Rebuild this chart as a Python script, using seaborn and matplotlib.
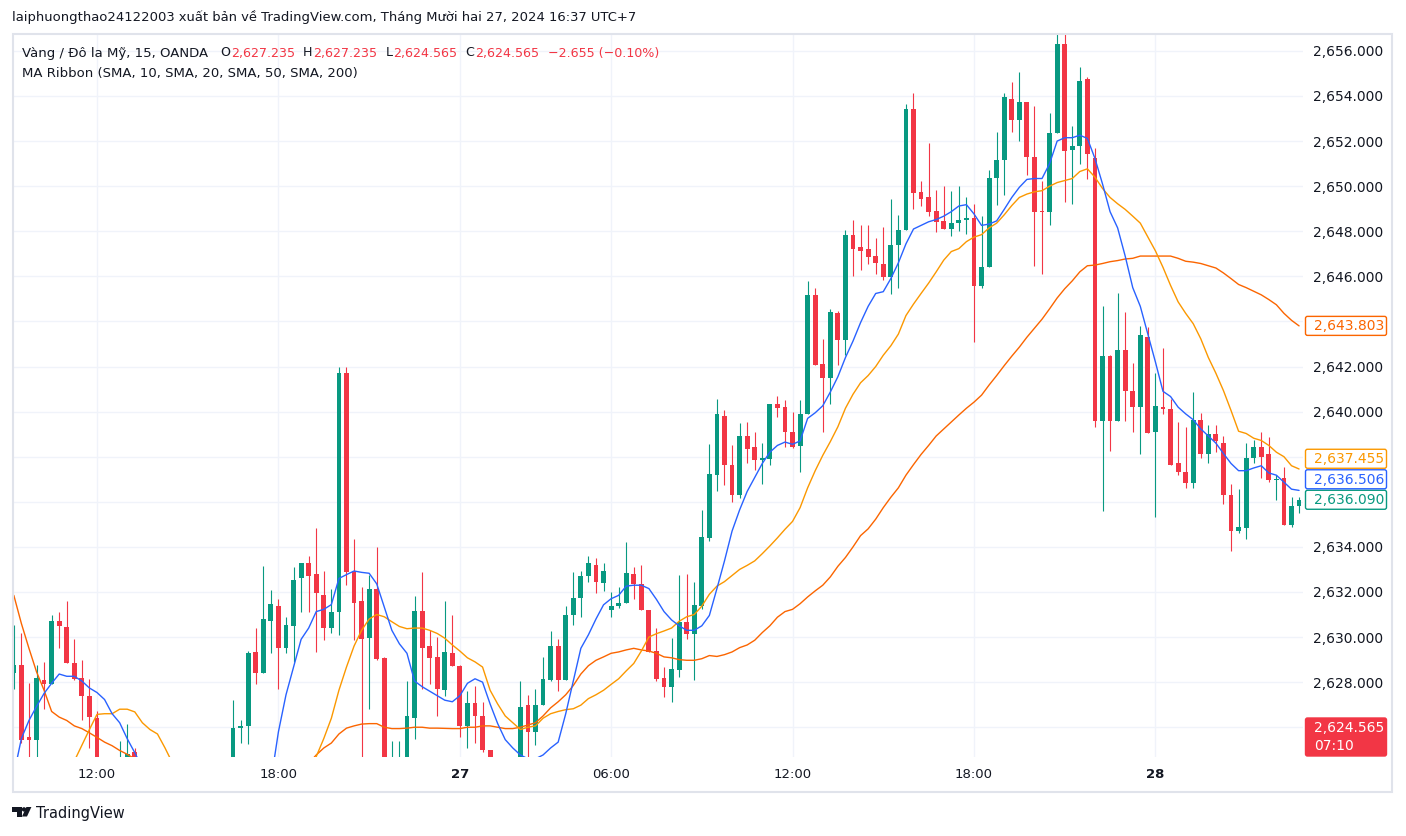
# XAU/USD 15m candles with MA ribbon, TradingView style

import numpy as np
import pandas as pd
import matplotlib
matplotlib.use("Agg")
import matplotlib.pyplot as plt
import seaborn as sns
from matplotlib.patches import Rectangle, FancyBboxPatch, Polygon, Circle
from matplotlib.ticker import FuncFormatter

nan = np.nan

# 15 min bars, market closed 05:00-06:00
times = list(pd.date_range("2024-12-26 09:15", "2024-12-27 04:45", freq="15min")) + \
    list(pd.date_range("2024-12-27 06:00", "2024-12-28 04:45", freq="15min"))

# OHLC (nan = candle fully below the visible range)
opens = [2628.4, 2628.77, 2625.55, 2625.45, 2628.1, 2627.9, 2630.7, 2630.45, 2628.87, 2628.2, 2627.4,
         2626.4, nan, nan, 2622.8, 2623.4, 2624.9, nan, nan, nan, nan,
         nan, nan, nan, nan, nan, nan, nan, nan, 2623.8, 2625.95,
         2626.05, 2629.35, 2628.4, 2630.7, 2631.4, 2629.5, 2630.5, 2632.6, 2633.3, 2632.8,
         2631.85, 2630.4, 2631.1, 2641.73, 2632.93, 2631.6, 2629.95, 2632.15, 2629.08, 2622.8,
         2623.0, 2624.0, 2626.4, 2631.17, 2629.6, 2629.1, 2627.65, 2629.3, 2628.73, 2626.06,
         2627.07, 2626.5, 2624.97, nan, nan, nan, 2623.8, 2626.98, 2625.8, 2627.0,
         2628.1, 2629.6, 2628.1, 2631.0, 2631.75, 2632.7, 2633.2, 2632.4, 2631.2, 2631.4,
         2631.5, 2632.8, 2632.35, 2631.2, 2629.4, 2628.2, 2627.8, 2628.56, 2630.68, 2630.14,
         2631.4, 2634.4, 2637.18, 2639.8, 2637.65, 2636.3, 2638.9, 2638.45, 2637.86, 2637.9,
         2640.32, 2640.2, 2639.1, 2638.47, 2639.9, 2645.18, 2642.12, 2641.49, 2644.36, 2643.17,
         2647.85, 2647.3, 2647.2, 2646.9, 2646.57, 2645.98, 2647.4, 2648.05, 2653.43, 2649.75,
         2649.5, 2648.9, 2648.45, 2648.1, 2648.35, 2648.5, 2648.6, 2645.55, 2646.4, 2650.37,
         2651.17, 2653.85, 2652.93, 2653.75, 2651.3, 2648.9, 2648.85, 2652.36, 2656.32, 2651.6,
         2651.8, 2654.76, 2651.27, 2639.58, 2642.47, 2639.58, 2642.72, 2640.93, 2640.2, 2643.3,
         2639.08, 2640.2, 2640.1, 2637.7, 2637.3, 2636.83, 2639.64, 2638.1, 2639.0, 2638.6,
         2636.32, 2634.7, 2634.85, 2637.94, 2638.45, 2638.1, 2636.97, 2637.07, 2634.98, 2635.8]
highs = [2630.55, 2630.2, 2627.95, 2628.77, 2628.9, 2631.0, 2631.1, 2631.6, 2629.9, 2629.0, 2628.15,
         2626.7, nan, nan, 2625.4, 2626.15, 2625.1, nan, nan, nan, nan,
         nan, nan, nan, nan, nan, nan, nan, nan, 2627.2, 2626.3,
         2629.4, 2630.4, 2633.15, 2632.1, 2631.7, 2630.9, 2633.1, 2633.3, 2633.6, 2634.85,
         2632.95, 2632.15, 2642.0, 2642.0, 2634.37, 2632.2, 2632.77, 2634.0, 2629.1, 2625.4,
         2625.4, 2628.05, 2631.8, 2632.9, 2630.3, 2630.0, 2631.6, 2631.0, 2628.75, 2627.6,
         2627.85, 2627.1, 2624.97, nan, nan, nan, 2628.05, 2627.45, 2627.7, 2629.1,
         2630.25, 2629.9, 2631.4, 2632.9, 2632.93, 2633.6, 2633.5, 2633.3, 2632.0, 2632.2,
         2634.2, 2633.1, 2633.2, 2631.2, 2630.4, 2628.67, 2629.95, 2632.77, 2632.8, 2632.46,
         2635.64, 2638.55, 2640.56, 2640.05, 2638.5, 2639.5, 2639.54, 2639.1, 2638.6, 2640.36,
         2640.7, 2640.5, 2640.0, 2640.5, 2645.8, 2645.5, 2643.23, 2644.56, 2644.46, 2648.05,
         2648.5, 2648.3, 2648.3, 2647.7, 2648.2, 2649.45, 2648.7, 2653.64, 2654.15, 2650.25,
         2651.9, 2649.85, 2650.0, 2649.8, 2650.0, 2649.5, 2649.2, 2648.67, 2650.7, 2652.4,
         2654.15, 2654.6, 2655.08, 2653.75, 2653.55, 2650.25, 2653.24, 2656.9, 2656.9, 2652.67,
         2655.27, 2654.85, 2651.7, 2644.67, 2642.5, 2645.24, 2644.4, 2642.14, 2643.8, 2643.75,
         2641.7, 2642.8, 2640.57, 2639.54, 2639.33, 2640.87, 2639.95, 2639.4, 2639.4, 2638.92,
         2636.77, 2636.56, 2638.62, 2638.76, 2639.1, 2638.88, 2637.2, 2637.55, 2636.2, 2636.2]
lows = [2627.68, 2625.3, 2624.0, 2624.0, 2626.8, 2627.9, 2629.5, 2628.83, 2628.1, 2626.3, 2625.1,
        2623.5, nan, nan, 2622.5, 2623.0, 2623.2, nan, nan, nan, nan,
        nan, nan, nan, nan, nan, nan, nan, nan, 2623.5, 2625.3,
        2625.25, 2627.9, 2628.4, 2629.3, 2627.7, 2629.3, 2628.9, 2631.1, 2631.1, 2629.35,
        2629.85, 2630.2, 2630.1, 2632.3, 2629.85, 2623.5, 2626.8, 2629.0, 2623.5, 2622.5,
        2622.8, 2623.6, 2625.5, 2627.7, 2627.9, 2626.5, 2627.4, 2628.7, 2625.55, 2625.1,
        2625.3, 2624.9, 2623.6, nan, nan, nan, 2623.5, 2624.4, 2625.2, 2627.0,
        2628.05, 2627.6, 2628.1, 2630.55, 2630.9, 2632.45, 2631.95, 2632.05, 2630.9, 2631.3,
        2631.5, 2631.7, 2631.2, 2629.35, 2628.05, 2627.33, 2627.1, 2628.25, 2629.9, 2628.1,
        2631.23, 2634.27, 2636.5, 2636.73, 2636.0, 2636.15, 2637.7, 2637.4, 2636.8, 2637.63,
        2639.74, 2638.45, 2638.4, 2637.3, 2639.9, 2642.06, 2639.1, 2640.36, 2642.06, 2642.5,
        2646.0, 2646.26, 2646.56, 2646.1, 2645.85, 2645.2, 2645.5, 2648.05, 2649.0, 2649.14,
        2648.67, 2647.95, 2648.1, 2647.8, 2648.0, 2647.9, 2643.1, 2645.5, 2646.4, 2649.17,
        2649.6, 2652.4, 2652.0, 2650.5, 2646.45, 2646.1, 2648.26, 2652.36, 2649.28, 2649.2,
        2651.0, 2650.3, 2639.3, 2635.58, 2638.27, 2639.58, 2639.58, 2639.1, 2638.14, 2639.03,
        2635.33, 2639.9, 2637.63, 2637.18, 2636.6, 2636.6, 2637.96, 2637.7, 2638.2, 2635.9,
        2633.8, 2634.6, 2634.35, 2637.73, 2637.04, 2636.9, 2636.06, 2634.96, 2634.86, 2635.5]
closes = [2628.77, 2625.45, 2625.45, 2628.2, 2627.9, 2630.7, 2630.5, 2628.83, 2628.15, 2627.4, 2626.45,
          2623.8, nan, nan, 2623.9, 2624.8, 2623.6, nan, nan, nan, nan,
          nan, nan, nan, nan, nan, nan, nan, nan, 2625.95, 2626.05,
          2629.3, 2628.4, 2630.8, 2631.45, 2629.5, 2630.55, 2632.55, 2633.3, 2632.7, 2631.95,
          2630.4, 2631.1, 2641.73, 2632.87, 2631.5, 2629.9, 2632.15, 2629.03, 2623.9, 2623.8,
          2624.0, 2626.5, 2631.17, 2629.5, 2629.05, 2627.7, 2629.35, 2628.7, 2626.06, 2627.07,
          2626.5, 2624.97, 2624.0, nan, nan, nan, 2626.9, 2625.8, 2626.98, 2628.15,
          2629.6, 2628.1, 2631.0, 2631.75, 2632.7, 2633.3, 2632.45, 2632.93, 2631.4, 2631.5,
          2632.85, 2632.35, 2631.2, 2629.35, 2628.15, 2627.8, 2628.6, 2630.68, 2630.14, 2631.44,
          2634.45, 2637.24, 2639.9, 2637.63, 2636.3, 2638.9, 2638.35, 2637.86, 2637.94, 2640.32,
          2640.15, 2639.1, 2638.45, 2639.9, 2645.18, 2642.06, 2641.49, 2644.4, 2643.17, 2647.85,
          2647.23, 2647.13, 2646.86, 2646.6, 2645.95, 2647.4, 2648.05, 2653.43, 2649.7, 2649.45,
          2648.87, 2648.4, 2648.1, 2648.35, 2648.5, 2648.6, 2645.55, 2646.4, 2650.37, 2651.17,
          2653.94, 2652.93, 2653.75, 2651.3, 2648.87, 2648.85, 2652.36, 2656.32, 2651.54, 2651.8,
          2654.68, 2651.43, 2639.58, 2642.47, 2639.58, 2642.72, 2640.93, 2640.2, 2643.4, 2639.03,
          2640.25, 2640.1, 2637.63, 2637.3, 2636.83, 2639.64, 2638.1, 2639.0, 2638.68, 2636.32,
          2634.72, 2634.87, 2637.94, 2638.45, 2638.0, 2636.97, 2637.03, 2634.98, 2635.8, 2636.09]

# moving averages
sma10 = [2623.9, 2625.5, 2626.3, 2626.92, 2627.5, 2627.95, 2628.36, 2628.26, 2628.26, 2628.05, 2627.74,
         2627.54, 2627.23, 2626.6, 2626.2, 2625.49, 2624.87, 2624.2, nan, nan, nan,
         nan, nan, nan, nan, nan, nan, nan, nan, nan, nan,
         nan, nan, nan, 2623.6, 2625.8, 2627.44, 2628.67, 2629.9, 2630.4, 2631.13,
         2631.23, 2631.44, 2632.6, 2632.77, 2632.93, 2632.87, 2632.83, 2632.36, 2631.33, 2630.3,
         2629.7, 2629.28, 2628.05, 2627.8, 2627.6, 2627.4, 2627.2, 2627.13, 2627.4, 2627.95,
         2628.15, 2628.0, 2627.03, 2626.16, 2625.45, 2625.08, 2624.77, 2624.6, 2624.6, 2624.77,
         2625.08, 2625.34, 2626.6, 2628.05, 2629.5, 2630.1, 2630.8, 2631.43, 2631.7, 2631.85,
         2632.26, 2632.3, 2632.3, 2632.15, 2631.67, 2631.13, 2630.76, 2630.5, 2630.3, 2630.3,
         2630.5, 2630.96, 2632.15, 2633.38, 2634.7, 2635.64, 2636.46, 2637.08, 2637.7, 2638.2,
         2638.5, 2638.65, 2638.55, 2638.7, 2639.7, 2639.95, 2640.26, 2640.87, 2641.55, 2642.4,
         2643.13, 2643.95, 2644.67, 2645.24, 2645.32, 2645.9, 2646.6, 2647.44, 2648.1, 2648.26,
         2648.42, 2648.52, 2648.67, 2648.87, 2649.12, 2649.18, 2648.77, 2648.26, 2648.32, 2648.46,
         2648.97, 2649.5, 2649.95, 2650.3, 2650.34, 2650.34, 2651.0, 2652.0, 2652.15, 2652.15,
         2652.26, 2652.12, 2651.23, 2650.1, 2648.87, 2648.15, 2646.9, 2645.5, 2644.67, 2643.44,
         2642.2, 2640.9, 2640.67, 2640.2, 2639.9, 2639.64, 2639.23, 2638.92, 2638.6, 2638.14,
         2637.7, 2637.38, 2637.38, 2637.5, 2637.6, 2637.28, 2637.18, 2636.87, 2636.56, 2636.506]
sma20 = [nan, nan, nan, nan, nan, nan, nan, 2623.8, 2624.5, 2625.2, 2625.9,
         2626.57, 2626.6, 2626.6, 2626.8, 2626.8, 2626.68, 2626.2, 2625.9, 2625.7, 2625.08,
         2624.4, 2623.8, nan, nan, nan, nan, nan, nan, nan, nan,
         nan, nan, nan, nan, nan, nan, nan, nan, 2623.9, 2624.7,
         2625.5, 2626.4, 2627.64, 2628.67, 2629.6, 2630.3, 2630.8, 2631.0, 2630.9, 2630.68,
         2630.47, 2630.37, 2630.4, 2630.4, 2630.3, 2630.16, 2629.95, 2629.65, 2629.38, 2629.08,
         2628.9, 2628.67, 2627.64, 2627.03, 2626.5, 2626.2, 2625.9, 2626.0, 2626.06, 2626.4,
         2626.6, 2626.7, 2626.78, 2626.82, 2626.98, 2627.27, 2627.44, 2627.64, 2627.9, 2628.15,
         2628.5, 2628.83, 2629.38, 2630.0, 2630.15, 2630.27, 2630.4, 2630.7, 2630.9, 2631.0,
         2631.37, 2631.9, 2632.26, 2632.46, 2632.73, 2633.0, 2633.18, 2633.38, 2633.7, 2634.04,
         2634.4, 2634.78, 2635.13, 2635.74, 2636.62, 2637.38, 2638.06, 2638.67, 2639.33, 2640.15,
         2640.77, 2641.28, 2641.6, 2642.0, 2642.5, 2642.92, 2643.44, 2644.26, 2644.77, 2645.24,
         2645.7, 2646.2, 2646.72, 2647.1, 2647.23, 2647.54, 2647.74, 2647.85, 2648.15, 2648.36,
         2648.73, 2649.14, 2649.5, 2649.65, 2649.75, 2649.8, 2650.0, 2650.16, 2650.25, 2650.34,
         2650.65, 2650.77, 2650.4, 2649.9, 2649.5, 2649.22, 2648.97, 2648.67, 2648.36, 2647.74,
         2647.13, 2646.4, 2645.6, 2644.87, 2644.36, 2643.9, 2643.23, 2642.4, 2641.7, 2640.93,
         2640.05, 2639.13, 2639.03, 2638.82, 2638.72, 2638.5, 2638.2, 2638.0, 2637.6, 2637.455]
sma50 = [2631.85, 2630.6, 2629.5, 2628.46, 2627.64, 2626.7, 2626.45, 2626.3, 2626.06, 2625.94, 2625.75,
         2625.55, 2625.34, 2625.18, 2624.97, 2624.8, 2624.6, 2624.4, nan, nan, nan,
         nan, nan, nan, nan, nan, nan, nan, nan, nan, nan,
         nan, nan, nan, nan, nan, nan, nan, nan, 2624.4, 2624.77,
         2625.08, 2625.3, 2625.7, 2625.96, 2626.06, 2626.14, 2626.16, 2626.16, 2626.0, 2625.94,
         2625.94, 2625.96, 2626.0, 2626.0, 2625.96, 2625.96, 2625.95, 2625.94, 2625.94, 2626.0,
         2626.0, 2626.06, 2626.06, 2626.0, 2625.94, 2625.94, 2626.0, 2626.1, 2626.2, 2626.5,
         2626.86, 2627.13, 2627.44, 2627.85, 2628.36, 2628.73, 2628.97, 2629.12, 2629.28, 2629.34,
         2629.43, 2629.5, 2629.43, 2629.38, 2629.28, 2629.12, 2629.08, 2629.0, 2628.97, 2628.97,
         2629.04, 2629.18, 2629.14, 2629.22, 2629.34, 2629.53, 2629.65, 2629.86, 2630.2, 2630.5,
         2630.88, 2631.13, 2631.23, 2631.48, 2631.78, 2632.05, 2632.3, 2632.67, 2633.14, 2633.53,
         2634.0, 2634.5, 2634.8, 2635.23, 2635.74, 2636.2, 2636.62, 2637.18, 2637.65, 2638.1,
         2638.5, 2638.92, 2639.23, 2639.54, 2639.85, 2640.15, 2640.42, 2640.73, 2641.18, 2641.6,
         2642.04, 2642.46, 2642.86, 2643.3, 2643.7, 2644.1, 2644.56, 2645.04, 2645.45, 2645.8,
         2646.2, 2646.47, 2646.5, 2646.57, 2646.65, 2646.7, 2646.77, 2646.8, 2646.9, 2646.9,
         2646.9, 2646.9, 2646.9, 2646.8, 2646.67, 2646.63, 2646.57, 2646.47, 2646.37, 2646.15,
         2645.9, 2645.64, 2645.5, 2645.34, 2645.18, 2644.97, 2644.74, 2644.36, 2644.05, 2643.803]

last_price = 2624.565
countdown = "07:10"

GREEN = "#089981"
RED = "#F23645"
BLUE = "#2962FF"
MA20_COL = "#FB9800"
MA50_COL = "#FB6500"
TXT = "#131722"
GRID = "#F0F3FA"

df = pd.DataFrame({"time": times, "open": opens, "high": highs, "low": lows, "close": closes,
                   "sma10": sma10, "sma20": sma20, "sma50": sma50})
df["bar"] = np.arange(len(df))

sns.set_style("white")
plt.rcParams["font.family"] = ["DejaVu Sans"]

W, H = 1406, 836
fig = plt.figure(figsize=(W / 100, H / 100), dpi=100)
# plot area: x 13..1303 px, y 34..757 px
ax = fig.add_axes([13 / W, 1 - 757 / H, 1290 / W, 723 / H])
ax.set_xlim(-0.11, 170.52)
ax.set_ylim(2624.68, 2656.75)

# candles
c = df[df["open"].notna()]
col = np.where(c["close"] >= c["open"], GREEN, RED)
ax.vlines(c["bar"], c["low"], c["high"], colors=col, lw=0.8, zorder=2)
body_lo = np.minimum(c["open"], c["close"])
body_h = np.maximum((c["close"] - c["open"]).abs(), 0.05)
ax.bar(c["bar"], body_h, bottom=body_lo, width=0.64, color=col, lw=0, zorder=3)

# MA ribbon
for name, colr in [("sma50", MA50_COL), ("sma20", MA20_COL), ("sma10", BLUE)]:
    sns.lineplot(data=df, x="bar", y=name, color=colr, lw=1.0, ax=ax, estimator=None, zorder=4)


def to_px(v):
    return H - ax.transData.transform((0, v))[1]


# price tags on the right scale, pushed apart when they overlap
tags = [(df["sma50"].iloc[-1], MA50_COL), (df["sma20"].iloc[-1], MA20_COL),
        (df["sma10"].iloc[-1], BLUE), (df["close"].iloc[-1], GREEN)]
tags = sorted([(to_px(v), v, colr) for v, colr in tags], reverse=True)
placed = []
prev = None
for y, v, colr in tags:
    if prev is not None and y > prev - 20.5:
        y = prev - 20.5
    prev = y
    placed.append((y, v, colr))
y_last = min(to_px(last_price), 757 - 20)
boxes = [(y - 9.5, y + 9.5) for y, _, _ in placed] + [(y_last - 19, y_last + 19)]


def price_label(v, p):
    # labels sitting well inside a tag box are hidden by it
    y = to_px(v)
    if any(top + 6 < y < bot - 6 for top, bot in boxes):
        return ""
    return f"{v:,.3f}"


# axes look
t = pd.Series(times)
is_tick = (t.dt.minute == 0) & t.dt.hour.isin([0, 6, 12, 18])
tick_bars = df["bar"][is_tick].tolist()
tick_labels = [str(x.day) if x.hour == 0 else x.strftime("%H:%M") for x in t[is_tick]]
ax.set_xticks(tick_bars)
ax.set_xticklabels(tick_labels, fontsize=9.5, color=TXT)
for lab, x in zip(ax.get_xticklabels(), t[is_tick]):
    if x.hour == 0:
        lab.set_fontweight("bold")
ax.set_yticks(np.arange(2626, 2657, 2))
ax.yaxis.set_major_formatter(FuncFormatter(price_label))
ax.yaxis.tick_right()
ax.tick_params(axis="y", length=0, pad=7, labelsize=10, labelcolor=TXT)
ax.tick_params(axis="x", length=0, pad=8)
ax.grid(True, color=GRID, lw=1)
ax.set_axisbelow(True)
ax.set_xlabel("")
ax.set_ylabel("")
for s in ax.spines.values():
    s.set_visible(False)

# overlay in pixel coordinates for frame, texts and price tags
ov = fig.add_axes([0, 0, 1, 1], facecolor="none")
ov.set_xlim(0, W)
ov.set_ylim(H, 0)
ov.axis("off")
ov.add_patch(Rectangle((12.5, 34), 1379, 757.5, fill=False, ec="#E0E3EB", lw=1.5))

ov.text(12, 17, "laiphuongthao24122003 xuất bản về TradingView.com, Tháng Mười hai 27, 2024 16:37 UTC+7",
        fontsize=9.45, color=TXT, va="center")

r = fig.canvas.get_renderer()
legend = [("Vàng / Đô la Mỹ, 15, OANDA", TXT, 12), ("O", TXT, 1), ("2,627.235", RED, 8),
          ("H", TXT, 1), ("2,627.235", RED, 8), ("L", TXT, 1), ("2,624.565", RED, 8),
          ("C", TXT, 1), ("2,624.565", RED, 8), ("−2.655 (−0.10%)", RED, 0)]
x = 22
for i, (s, colr, gap) in enumerate(legend):
    tx = ov.text(x, 53, s, fontsize=9.5 if i == 0 else 9.1, color=colr, va="center")
    x += tx.get_window_extent(renderer=r).width + gap
ov.text(22, 74, "MA Ribbon (SMA, 10, SMA, 20, SMA, 50, SMA, 200)", fontsize=9.5, color=TXT, va="center")

for y, v, colr in placed:
    ov.add_patch(FancyBboxPatch((1305.5, y - 9.5), 81, 19, boxstyle="round,pad=0,rounding_size=2",
                                fc="white", ec=colr, lw=1, zorder=5))
    ov.text(1314, y + 0.5, f"{v:,.3f}", fontsize=10, color=colr, va="center", zorder=6)

# current price tag, clamped to the bottom of the scale
ov.add_patch(FancyBboxPatch((1305.5, y_last - 19), 81, 38, boxstyle="round,pad=0,rounding_size=2",
                            fc=RED, ec=RED, lw=1, zorder=5))
ov.text(1314, y_last - 9, f"{last_price:,.3f}", fontsize=10, color="white", va="center", zorder=6)
ov.text(1314, y_last + 9, countdown, fontsize=10, color="white", va="center", zorder=6)

# TradingView logo
ov.add_patch(Polygon([(12.3, 807.0), (22.0, 807.0), (22.0, 816.5), (17.3, 816.5), (17.3, 811.8), (12.3, 811.8)],
                     closed=True, fc=TXT, ec="none"))
ov.add_patch(Circle((24.0, 809.4), 2.2, fc=TXT, ec="none"))
ov.add_patch(Polygon([(26.4, 807.0), (31.4, 807.0), (27.0, 816.5), (22.0, 816.5)], closed=True, fc=TXT, ec="none"))
ov.text(35.5, 813.5, "TradingView", fontsize=10.5, color=TXT, va="center")

fig.savefig("out.png", dpi=100, facecolor="white")
